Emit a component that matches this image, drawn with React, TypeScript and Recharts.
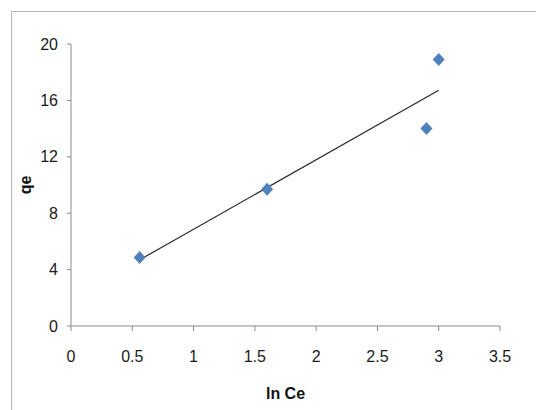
import { ScatterChart, Scatter, XAxis, YAxis } from 'recharts';

const lnCe = [0.56, 1.6, 2.9, 3.0];
const qe = [4.85, 9.7, 14.0, 18.9];
const xTicks = [0, 0.5, 1, 1.5, 2, 2.5, 3, 3.5];
const yTicks = [0, 4, 8, 12, 16, 20];

const points = lnCe.map((x, i) => ({ x, y: qe[i] }));

// least squares trendline, like Excel's linear trendline
const n = lnCe.length;
const mx = lnCe.reduce((a, b) => a + b, 0) / n;
const my = qe.reduce((a, b) => a + b, 0) / n;
let sxy = 0;
let sxx = 0;
lnCe.forEach((x, i) => {
  sxy += (x - mx) * (qe[i] - my);
  sxx += (x - mx) * (x - mx);
});
const slope = sxy / sxx;
const intercept = my - slope * mx;
const xMin = Math.min(...lnCe);
const xMax = Math.max(...lnCe);
const trend = [
  { x: xMin, y: intercept + slope * xMin },
  { x: xMax, y: intercept + slope * xMax },
];

const font = '"Liberation Sans Narrow", "Liberation Sans", Arial, sans-serif';
const axisColor = '#8a8a8a';
const tickStyle = { fill: '#1a1a1a', fontSize: 16, fontFamily: font };

const Diamond = (props: any) => {
  const { cx, cy } = props;
  if (cx == null || cy == null) return null;
  const w = 6;
  const h = 6.5;
  return (
    <polygon
      points={`${cx},${cy - h} ${cx + w},${cy} ${cx},${cy + h} ${cx - w},${cy}`}
      fill="#4f81bd"
    />
  );
};

const YTitle = (props: any) => {
  const { viewBox } = props;
  const x = viewBox.x + 15;
  const y = viewBox.y + viewBox.height / 2;
  return (
    <text
      x={x}
      y={y}
      transform={`rotate(-90, ${x}, ${y})`}
      textAnchor="middle"
      dominantBaseline="central"
      fontFamily={font}
      fontWeight="bold"
      fontSize={16}
      fill="#111"
    >
      qe
    </text>
  );
};

const XTitle = (props: any) => {
  const { viewBox } = props;
  return (
    <text
      x={viewBox.x + viewBox.width / 2}
      y={viewBox.y + 67}
      textAnchor="middle"
      dominantBaseline="central"
      fontFamily={font}
      fontWeight="bold"
      fontSize={16}
      fill="#111"
    >
      ln Ce
    </text>
  );
};

export default function App() {
  return (
    <div style={{ position: 'absolute', left: 0, top: 0, width: 536, height: 410, background: '#fff', overflow: 'hidden' }}>
      <div
        style={{
          position: 'absolute',
          left: 11,
          top: 11,
          width: 600,
          height: 500,
          borderLeft: '1px solid #b5b5b5',
          borderTop: '1px solid #b5b5b5',
        }}
      />
      <ScatterChart
        width={536}
        height={410}
        margin={{ top: 44, right: 36, bottom: 10, left: 10 }}
        style={{ position: 'absolute', left: 0, top: 0 }}
      >
        <XAxis
          type="number"
          dataKey="x"
          domain={[0, 3.5]}
          ticks={xTicks}
          height={74}
          stroke={axisColor}
          tickSize={5}
          tickMargin={20}
          tick={tickStyle}
          label={{ content: XTitle }}
          allowDataOverflow
        />
        <YAxis
          type="number"
          dataKey="y"
          domain={[0, 20]}
          ticks={yTicks}
          width={61}
          stroke={axisColor}
          tickSize={4}
          tickMargin={9}
          tick={tickStyle}
          label={{ content: YTitle }}
          allowDataOverflow
        />
        <Scatter
          data={trend}
          line={{ stroke: '#2a2a2a', strokeWidth: 1.2 }}
          shape={() => null}
          isAnimationActive={false}
        />
        <Scatter data={points} shape={Diamond} isAnimationActive={false} />
      </ScatterChart>
    </div>
  );
}
